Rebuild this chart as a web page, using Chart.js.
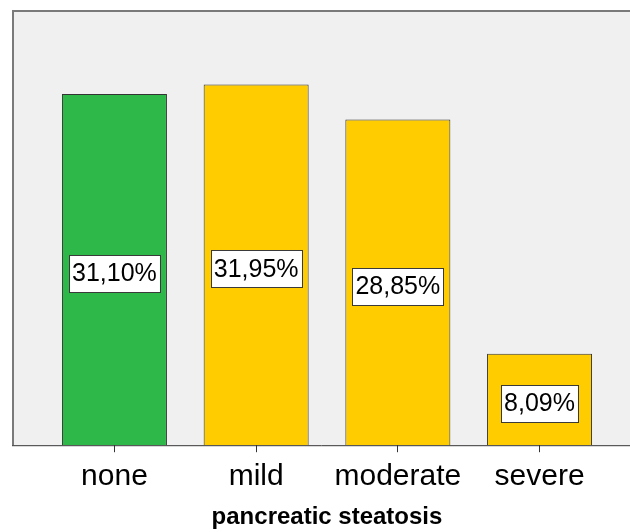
<!DOCTYPE html>
<html>
<head>
<meta charset="utf-8">
<script src="https://cdn.jsdelivr.net/npm/chart.js@4/dist/chart.umd.min.js"></script>
<style>
html,body{margin:0;padding:0;background:#fff;}
canvas{display:block;}
</style>
</head>
<body>
<canvas id="c" width="630" height="532"></canvas>
<script>
const categories = ["none", "mild", "moderate", "severe"];
const percentages = [31.10, 31.95, 28.85, 8.09];
const barLabels = ["31,10%", "31,95%", "28,85%", "8,09%"];
const barColors = ["#2fb84a", "#ffcc00", "#ffcc00", "#ffcc00"];
const axisTitle = "pancreatic steatosis";

const plotBg = {
  id: 'plotBg',
  beforeDraw(chart) {
    const ctx = chart.ctx;
    const ca = chart.chartArea;
    const left = 12, right = 640;
    ctx.save();
    ctx.fillStyle = '#f0f0f0';
    ctx.fillRect(left, ca.top, right - left, ca.bottom - ca.top);
    ctx.strokeStyle = '#7a7a7a';
    ctx.lineWidth = 2;
    ctx.beginPath();
    ctx.moveTo(left + 1, ca.bottom);
    ctx.lineTo(left + 1, ca.top + 1);
    ctx.lineTo(right, ca.top + 1);
    ctx.stroke();
    ctx.restore();
  },
  afterDatasetsDraw(chart) {
    const ctx = chart.ctx;
    const ca = chart.chartArea;
    ctx.save();
    ctx.strokeStyle = '#333';
    ctx.lineWidth = 1;
    ctx.beginPath();
    ctx.moveTo(12, ca.bottom + 0.5);
    ctx.lineTo(640, ca.bottom + 0.5);
    ctx.stroke();
    const meta = chart.getDatasetMeta(0);
    ctx.font = '25px Arial, "Liberation Sans", sans-serif';
    ctx.textAlign = 'center';
    ctx.textBaseline = 'middle';
    meta.data.forEach((bar, i) => {
      const txt = barLabels[i];
      const cy = (bar.y + bar.base) / 2 + 4;
      const w = Math.round(ctx.measureText(txt).width + 6);
      const h = 37;
      const x0 = Math.round(bar.x - w / 2) + 0.5;
      const y0 = Math.round(cy - h / 2) + 0.5;
      ctx.fillStyle = '#fff';
      ctx.fillRect(x0, y0, w, h);
      ctx.strokeStyle = '#3a3a3a';
      ctx.strokeRect(x0, y0, w, h);
      ctx.fillStyle = '#000';
      ctx.fillText(txt, bar.x, cy + 1);
    });
    ctx.restore();
  }
};

new Chart(document.getElementById('c'), {
  type: 'bar',
  data: {
    labels: categories,
    datasets: [{
      data: percentages,
      backgroundColor: barColors,
      borderColor: '#333',
      borderWidth: 1,
      borderSkipped: 'bottom',
      barPercentage: 0.741,
      categoryPercentage: 1.0
    }]
  },
  options: {
    responsive: false,
    animation: false,
    devicePixelRatio: 1,
    layout: { padding: { left: 43.6, right: 19.6, top: 10, bottom: 0 } },
    plugins: { legend: { display: false }, tooltip: { enabled: false } },
    scales: {
      x: {
        type: 'category',
        offset: true,
        border: { display: false },
        grid: { offset: false, drawOnChartArea: false, tickLength: 7, color: '#333', lineWidth: 1 },
        ticks: {
          color: '#000',
          padding: 7,
          maxRotation: 0,
          minRotation: 0,
          autoSkip: false,
          font: { family: 'Arial, "Liberation Sans", sans-serif', size: 30 }
        },
        title: {
          display: true,
          text: axisTitle,
          color: '#000',
          font: { family: 'Arial, "Liberation Sans", sans-serif', size: 24, weight: 'bold' },
          padding: { top: 1, bottom: 0 }
        }
      },
      y: {
        display: false,
        min: 0,
        max: 38.54
      }
    }
  },
  plugins: [plotBg]
});
</script>
</body>
</html>
